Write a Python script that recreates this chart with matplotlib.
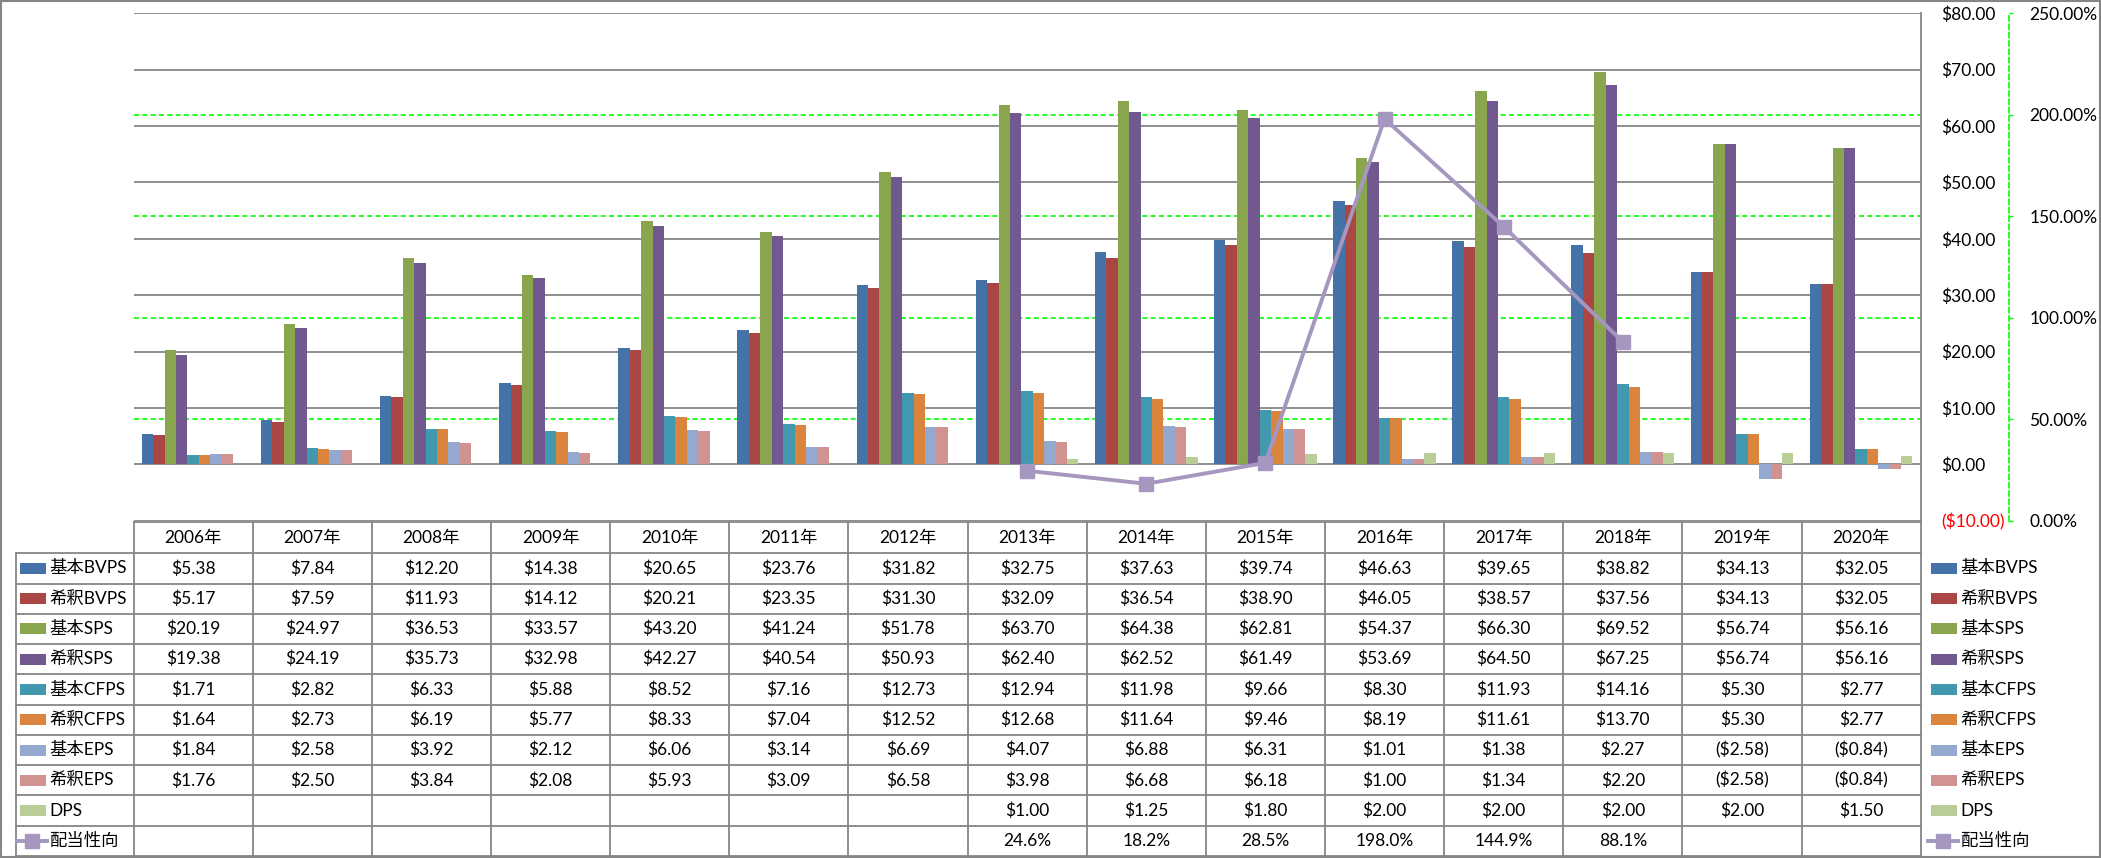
import numpy as np
import matplotlib
matplotlib.use('Agg')
import matplotlib.pyplot as plt
from matplotlib.transforms import blended_transform_factory
from matplotlib.patches import Rectangle
from matplotlib.ticker import FuncFormatter

# ---------------- data ----------------
years = ['2006年', '2007年', '2008年', '2009年', '2010年', '2011年', '2012年', '2013年',
         '2014年', '2015年', '2016年', '2017年', '2018年', '2019年', '2020年']
series_names = ['基本BVPS', '希釈BVPS', '基本SPS', '希釈SPS', '基本CFPS', '希釈CFPS',
                '基本EPS', '希釈EPS', 'DPS']
basic_bvps = [5.38, 7.84, 12.20, 14.38, 20.65, 23.76, 31.82, 32.75, 37.63, 39.74, 46.63, 39.65, 38.82, 34.13, 32.05]
dil_bvps = [5.17, 7.59, 11.93, 14.12, 20.21, 23.35, 31.30, 32.09, 36.54, 38.90, 46.05, 38.57, 37.56, 34.13, 32.05]
basic_sps = [20.19, 24.97, 36.53, 33.57, 43.20, 41.24, 51.78, 63.70, 64.38, 62.81, 54.37, 66.30, 69.52, 56.74, 56.16]
dil_sps = [19.38, 24.19, 35.73, 32.98, 42.27, 40.54, 50.93, 62.40, 62.52, 61.49, 53.69, 64.50, 67.25, 56.74, 56.16]
basic_cfps = [1.71, 2.82, 6.33, 5.88, 8.52, 7.16, 12.73, 12.94, 11.98, 9.66, 8.30, 11.93, 14.16, 5.30, 2.77]
dil_cfps = [1.64, 2.73, 6.19, 5.77, 8.33, 7.04, 12.52, 12.68, 11.64, 9.46, 8.19, 11.61, 13.70, 5.30, 2.77]
basic_eps = [1.84, 2.58, 3.92, 2.12, 6.06, 3.14, 6.69, 4.07, 6.88, 6.31, 1.01, 1.38, 2.27, -2.58, -0.84]
dil_eps = [1.76, 2.50, 3.84, 2.08, 5.93, 3.09, 6.58, 3.98, 6.68, 6.18, 1.00, 1.34, 2.20, -2.58, -0.84]
dps = [None, None, None, None, None, None, None, 1.00, 1.25, 1.80, 2.00, 2.00, 2.00, 2.00, 1.50]
payout_name = '配当性向'
payout = [None, None, None, None, None, None, None, 24.6, 18.2, 28.5, 198.0, 144.9, 88.1, None, None]

series = [basic_bvps, dil_bvps, basic_sps, dil_sps, basic_cfps, dil_cfps, basic_eps, dil_eps, dps]
colors = ['#4572A7', '#AA4643', '#89A54E', '#71588F', '#4198AF', '#DB843D',
          '#93A9CF', '#D19392', '#B9CD96']
line_color = '#A597BF'

usd_ticks = [-10, 0, 10, 20, 30, 40, 50, 60, 70, 80]
pct_ticks = [0, 0.5, 1.0, 1.5, 2.0, 2.5]

FAM = ['Lato', 'Noto Sans CJK JP', 'DejaVu Sans']
plt.rcParams['font.family'] = FAM
FS = 12.5
GRID = '#868686'

W, H = 2101, 858
fig = plt.figure(figsize=(W / 100, H / 100), dpi=100)

def usd(v):
    if v is None:
        return ''
    return f'(${-v:.2f})' if v < 0 else f'${v:.2f}'

# ---------------- main plot ----------------
plot_l, plot_r, plot_t, plot_b = 133.5, 1920.7, 13.3, 520.7
ax = fig.add_axes([plot_l / W, 1 - plot_b / H, (plot_r - plot_l) / W, (plot_b - plot_t) / H])
ax.set_xlim(-0.5, len(years) - 0.5)
ax.set_ylim(-10, 80)
ax.set_axisbelow(True)

n = len(series)
group = 0.862
bw = group / n
x = np.arange(len(years))
for i, (vals, c) in enumerate(zip(series, colors)):
    v = np.array([np.nan if a is None else a for a in vals], dtype=float)
    ax.bar(x + (i - (n - 1) / 2) * bw, v, width=bw, color=c, linewidth=0, zorder=2)

# secondary axis
ax2 = ax.twinx()
ax2.set_ylim(0, 2.5)
ax2.set_yticks(pct_ticks)
ax2.yaxis.set_major_formatter(FuncFormatter(lambda v, p: f'{v * 100:.2f}%'))
ax2.tick_params(axis='y', length=3, width=1, color='#00FF00', direction='out', pad=11.5,
                labelsize=FS)
for s in ['left', 'top', 'bottom']:
    ax2.spines[s].set_visible(False)
ax2.spines['right'].set_position(('outward', 88.3 * 0.72))
ax2.spines['right'].set_color('#00FF00')
ax2.spines['right'].set_linestyle((0, (3, 2)))
ax2.spines['right'].set_linewidth(1.2)

# primary axis (labels on the right, between plot and secondary axis)
ax.set_xticks([])
ax.set_yticks(usd_ticks)
ax.yaxis.set_major_formatter(FuncFormatter(lambda v, p: usd(v)))
ax.yaxis.tick_right()
ax.tick_params(axis='y', which='both', left=False, right=True, labelleft=False,
               labelright=True, length=0, pad=14.5, labelsize=FS)
for lab, t in zip(ax.get_yticklabels(), usd_ticks):
    lab.set_color('#FF0000' if t < 0 else '#000000')
ax.grid(axis='y', color=GRID, lw=1.3)
for s in ['left', 'top', 'bottom']:
    ax.spines[s].set_visible(False)
ax.spines['right'].set_color(GRID)
ax.spines['right'].set_linewidth(1.3)

# green dashed gridlines of the secondary axis, drawn behind the bars
bt = blended_transform_factory(ax.transAxes, ax2.transData)
for t in pct_ticks[1:-1]:
    ax.plot([0, 1], [t, t], transform=bt, color='#00FF00', lw=1.2,
            ls=(0, (3, 2)), zorder=1)

pv = np.array([np.nan if a is None else a / 100 for a in payout], dtype=float)
ax2.plot(x, pv, color=line_color, lw=2.8, marker='s', ms=9.5, mfc=line_color,
         mec=line_color, zorder=5)

# ---------------- data table ----------------
tab = fig.add_axes([0, 0, 1, 1])
tab.set_xlim(0, W)
tab.set_ylim(H, 0)
tab.axis('off')
T = blended_transform_factory(ax.transData, tab.transData)

tbl_top, hdr_bot, tbl_bot = 521.7, 553.3, 856
rows = series_names + [payout_name]
nrow = len(rows)
rh = (tbl_bot - hdr_bot) / nrow
row_y = [hdr_bot + k * rh for k in range(nrow + 1)]
lab_l = 16

lk = dict(color=GRID, lw=1.3, clip_on=False)
tab.plot([-0.5, len(years) - 0.5], [tbl_top, tbl_top], transform=T, **lk)
for yy in row_y:
    tab.plot([lab_l, plot_r], [yy, yy], **lk)
for k in range(len(years) + 1):
    tab.plot([k - 0.5, k - 0.5], [tbl_top, tbl_bot], transform=T, **lk)
tab.plot([lab_l, lab_l], [hdr_bot, tbl_bot], **lk)

for k, yname in enumerate(years):
    tab.text(k, (tbl_top + hdr_bot) / 2, yname, transform=T, ha='center', va='center',
             fontsize=FS)

for r, vals in enumerate(series):
    yc = (row_y[r] + row_y[r + 1]) / 2
    for k, v in enumerate(vals):
        if v is not None:
            tab.text(k, yc, usd(v), transform=T, ha='center', va='center', fontsize=FS)
yc = (row_y[-2] + row_y[-1]) / 2
for k, v in enumerate(payout):
    if v is not None:
        tab.text(k, yc, f'{v:.1f}%', transform=T, ha='center', va='center', fontsize=FS)

def key(x0, r):
    yc = (row_y[r] + row_y[r + 1]) / 2
    if r < len(series):
        tab.add_patch(Rectangle((x0, yc - 5.5), 26, 11, color=colors[r], lw=0))
    else:
        tab.plot([x0 - 3, x0 + 27], [yc, yc], color=line_color, lw=2.8)
        tab.plot([x0 + 12], [yc], marker='s', ms=9.5, color=line_color)
    tab.text(x0 + 29, yc, rows[r], ha='left', va='center', fontsize=FS)

for r in range(nrow):
    key(20, r)
    key(1931, r)

tab.add_patch(Rectangle((1, 1), W - 2, H - 2, fill=False, ec=GRID, lw=1.5, clip_on=False))

fig.savefig('out.png', dpi=100)
